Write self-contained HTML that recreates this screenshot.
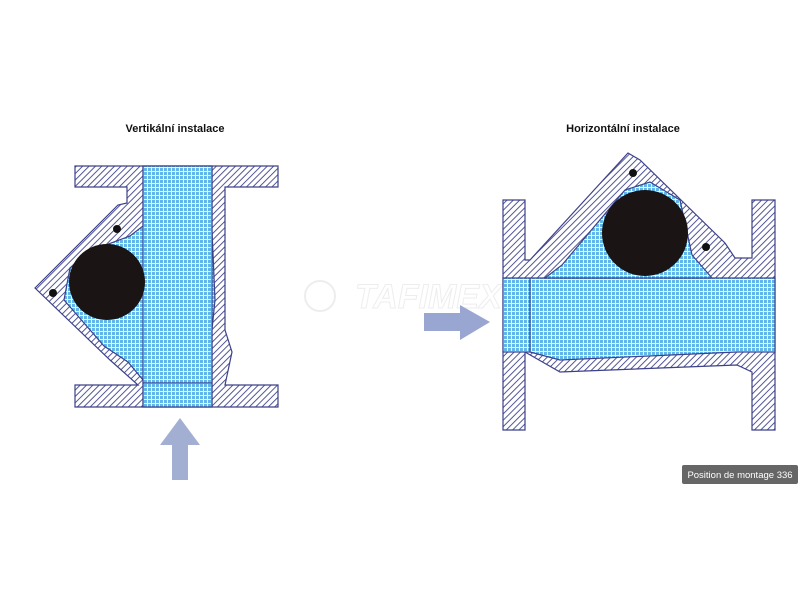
<!DOCTYPE html>
<html><head><meta charset="utf-8"><style>
html,body{margin:0;padding:0;background:#fff;width:800px;height:600px;overflow:hidden}
svg{display:block}
</style></head><body>
<svg width="800" height="600" viewBox="0 0 800 600" xmlns="http://www.w3.org/2000/svg">
<defs>
<pattern id="h" width="4.5" height="4.5" patternUnits="userSpaceOnUse" patternTransform="rotate(45)">
<rect width="4.5" height="4.5" fill="#fff"/><line x1="0" y1="0" x2="0" y2="5" stroke="#4a4e92" stroke-width="1.9"/></pattern>
<pattern id="b" width="4" height="4" patternUnits="userSpaceOnUse">
<rect width="4" height="4" fill="#5fb6ea"/><path d="M0 3.5H4M3.5 0V4" stroke="#eaf6ff" stroke-width="1.1"/></pattern>
</defs>
<g font-family="Liberation Sans, sans-serif" font-weight="bold" font-size="11" fill="#111" text-anchor="middle">
<text x="175" y="132">Vertikální instalace</text>
<text x="623" y="132">Horizontální instalace</text>
</g>
<g opacity="0.5" stroke="#ddd" fill="none" stroke-width="2">
<circle cx="320" cy="296" r="15"/>
<text x="355" y="308" font-family="Liberation Sans, sans-serif" font-style="italic" font-weight="bold" font-size="34" fill="#fff" stroke="#ddd" stroke-width="1">TAFIMEX</text>
</g>
<!-- LEFT VALVE -->
<g stroke="#3d4189" stroke-width="1.2">
<path d="M75 166H278V187H225V330L232 352L225 385H278V407H75V385H138L110 360L35 288L118 205L127 203V187H75Z" fill="url(#h)"/>
<path d="M143 166H212V230L215 300L212 330V407H143V380L128 362L104 346L64 300L70 268L92 250L130 236L143 226Z" fill="url(#b)"/>
<line x1="143" y1="166" x2="143" y2="407"/><line x1="212" y1="166" x2="212" y2="407"/>
<line x1="143" y1="383" x2="212" y2="383"/>
</g>
<circle cx="107" cy="282" r="38" fill="#1a1414"/>
<circle cx="117" cy="229" r="4" fill="#111"/>
<circle cx="53" cy="293" r="4" fill="#111"/>
<!-- RIGHT VALVE -->
<g stroke="#3d4189" stroke-width="1.2">
<path d="M503 200H525V260L530 260L628 153L640 160L725 243L735 258H752V200H775V430H752V372L737 365L560 372L525 352V430H503Z" fill="url(#h)"/>
<path d="M503 278H775V352H737L560 360L530 352H503Z" fill="url(#b)"/>
<path d="M545 278L562 265L625 190L650 182L680 200L692 255L712 278Z" fill="url(#b)"/>
<line x1="530" y1="278" x2="530" y2="352"/>
</g>
<circle cx="645" cy="233" r="43" fill="#1a1414"/>
<circle cx="633" cy="173" r="4" fill="#111"/>
<circle cx="706" cy="247" r="4" fill="#111"/>
<!-- arrows -->
<path d="M172 480V445H160L180 418L200 445H188V480Z" fill="#a3aed3"/>
<path d="M424 313H460V305L490 322L460 340V331H424Z" fill="#98a6d1"/>
<rect x="682" y="465" width="116" height="19" rx="2" fill="#666"/>
<text x="740" y="478" font-family="Liberation Sans, sans-serif" font-size="9.5" fill="#fff" text-anchor="middle">Position de montage 336</text>
</svg>
</body></html>
